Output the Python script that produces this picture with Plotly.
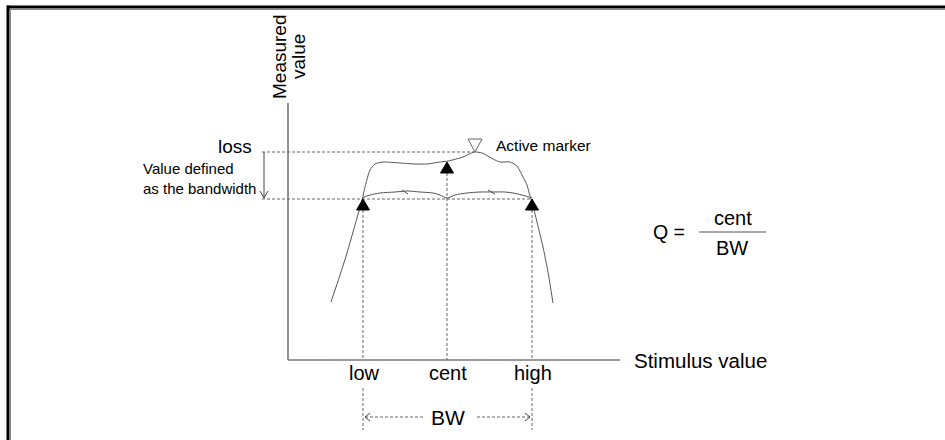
import plotly.graph_objects as go

# ---------------- data (units: 1 unit = 1 px from the axis origin) ----------------
stim_labels = ["low", "cent", "high"]
stim_x = [75, 159, 244]
marker_tip_y = [161, 198, 161]        # tips of the filled markers
loss_level = 208                       # peak (active marker) level
bw_level = 161                         # level that defines the bandwidth
active_x = 187

upper_x = [43, 52, 59, 67, 74, 78, 82, 87, 95, 112, 127, 139, 152, 160, 175, 186,
           194, 205, 212, 222, 229, 235, 239, 242, 244, 249, 255, 260, 265]
upper_y = [58, 85, 107, 135, 160, 177, 190, 196, 198, 197, 196, 196, 198, 199, 203, 208,
           207, 201, 198, 198, 194, 183, 175, 164, 158, 138, 113, 88, 57]

lower_x = [74, 82, 92, 107, 119, 132, 145, 152, 159, 167, 179, 192, 205, 217, 225, 234, 244]
lower_y = [162, 165, 167, 168, 169, 168, 167, 165, 162, 165, 167, 168, 168, 168, 167, 165, 162]

hatch_x = [[114, 120], [200, 207]]
hatch_y = [[170, 166], [170, 166]]

x_axis_end = 332
y_axis_top = 257

FONT = "Liberation Sans, Arial, sans-serif"
CURVE = "#555555"
AXIS = "#777777"
DASH = "#666666"

fig = go.Figure()

def line(xs, ys, color=CURVE, width=1, dash=None, shape="linear", smoothing=None):
    ln = dict(color=color, width=width, dash=dash, shape=shape)
    if smoothing is not None:
        ln["smoothing"] = smoothing
    fig.add_trace(go.Scatter(x=xs, y=ys, mode="lines", line=ln,
                             hoverinfo="skip", showlegend=False))

# axes
line([0, 0], [y_axis_top, 0], color=AXIS, width=1.6)
line([0, x_axis_end], [0, 0], color=AXIS, width=1.6)

# dashed reference lines
line([-26, active_x], [loss_level, loss_level], color=DASH, dash="3px,2px")
line([-26, stim_x[2]], [bw_level, bw_level], color=DASH, dash="3px,2px")
for i, sx in enumerate(stim_x):
    line([sx, sx], [marker_tip_y[i] - 11, 0], color=DASH, dash="3px,2px")
for sx in (stim_x[0], stim_x[2]):
    line([sx, sx], [-28, -70], color=DASH, dash="3px,2px")

# curves
line(upper_x, upper_y, shape="spline", smoothing=0.6)
line(lower_x, lower_y, shape="spline", smoothing=0.8)
for hx, hy in zip(hatch_x, hatch_y):
    line(hx, hy)

# filled markers (tip at the data point)
for sx, ty in zip(stim_x, marker_tip_y):
    fig.add_trace(go.Scatter(x=[sx - 6.5, sx + 6.5, sx, sx - 6.5],
                             y=[ty - 11, ty - 11, ty, ty - 11],
                             mode="lines", fill="toself", fillcolor="black",
                             line=dict(color="black", width=1),
                             hoverinfo="skip", showlegend=False))
# active marker (hollow, pointing down)
fig.add_trace(go.Scatter(x=[active_x - 7, active_x + 7, active_x, active_x - 7],
                         y=[loss_level + 13, loss_level + 13, loss_level, loss_level + 13],
                         mode="lines", fill="toself", fillcolor="white",
                         line=dict(color="#666666", width=1),
                         hoverinfo="skip", showlegend=False))

# loss arrow
line([-24, -24], [loss_level, bw_level + 1], color="#444444")
line([-28, -24, -20], [bw_level + 8, bw_level + 1, bw_level + 8], color="#444444")

# BW arrow
bw_y = -57
line([stim_x[0] + 2, stim_x[1] - 24], [bw_y, bw_y], color=DASH, dash="3px,2px")
line([stim_x[1] + 30, stim_x[2] - 2], [bw_y, bw_y], color=DASH, dash="3px,2px")
line([stim_x[0] + 7, stim_x[0] + 2, stim_x[0] + 7], [bw_y + 4, bw_y, bw_y - 4], color="#444444")
line([stim_x[2] - 7, stim_x[2] - 2, stim_x[2] - 7], [bw_y + 4, bw_y, bw_y - 4], color="#444444")

# Q formula fraction bar
line([411, 478], [128, 128], color=CURVE)

ann = []
def text(t, x, y, size, xanchor="center", yanchor="middle", align="center", angle=0):
    ann.append(dict(text=t, x=x, y=y, xref="x", yref="y", showarrow=False,
                    xanchor=xanchor, yanchor=yanchor, align=align, textangle=angle,
                    font=dict(family=FONT, size=size, color="black")))

text("Measured", -9, 303, 19, angle=-90)
text("value", 10, 303, 19, angle=-90)
text("loss", -34, 214, 19, xanchor="right")
text("Value defined<br>as the bandwidth", -30, 182, 15, xanchor="right", align="left")
text("Active marker", 206, 215, 15.5, xanchor="left")
text("Stimulus value", 344, 0, 20.5, xanchor="left")
for lab, sx in zip(stim_labels, stim_x):
    text(lab, sx + 1, -13, 20)
text("BW", (stim_x[0] + stim_x[2]) / 2, bw_y, 21)
text("Q =", 363, 128, 19.5, xanchor="left")
text("cent", 445, 142, 20)
text("BW", 444, 112, 20)

W, H = 945, 440
def px(x): return x / W
def py(y): return 1 - y / H

shapes = [
    dict(type="line", xref="paper", yref="paper", x0=px(7), x1=px(945), y0=py(7), y1=py(7),
         line=dict(color="black", width=3)),
    dict(type="line", xref="paper", yref="paper", x0=px(9), x1=px(945), y0=py(9.5), y1=py(9.5),
         line=dict(color="#888888", width=1)),
    dict(type="line", xref="paper", yref="paper", x0=px(8), x1=px(8), y0=py(5.5), y1=py(440),
         line=dict(color="black", width=3)),
    dict(type="line", xref="paper", yref="paper", x0=px(10.5), x1=px(10.5), y0=py(9), y1=py(440),
         line=dict(color="#888888", width=1)),
]

fig.update_layout(
    width=W, height=H,
    margin=dict(l=0, r=0, t=0, b=0, pad=0),
    paper_bgcolor="white", plot_bgcolor="white",
    xaxis=dict(range=[-288, 657], visible=False, fixedrange=True),
    yaxis=dict(range=[-80, 360], visible=False, fixedrange=True),
    annotations=ann, shapes=shapes, showlegend=False,
)

fig.write_html("out.html", config={"displayModeBar": False},
               post_script="document.body.style.margin='0';")
